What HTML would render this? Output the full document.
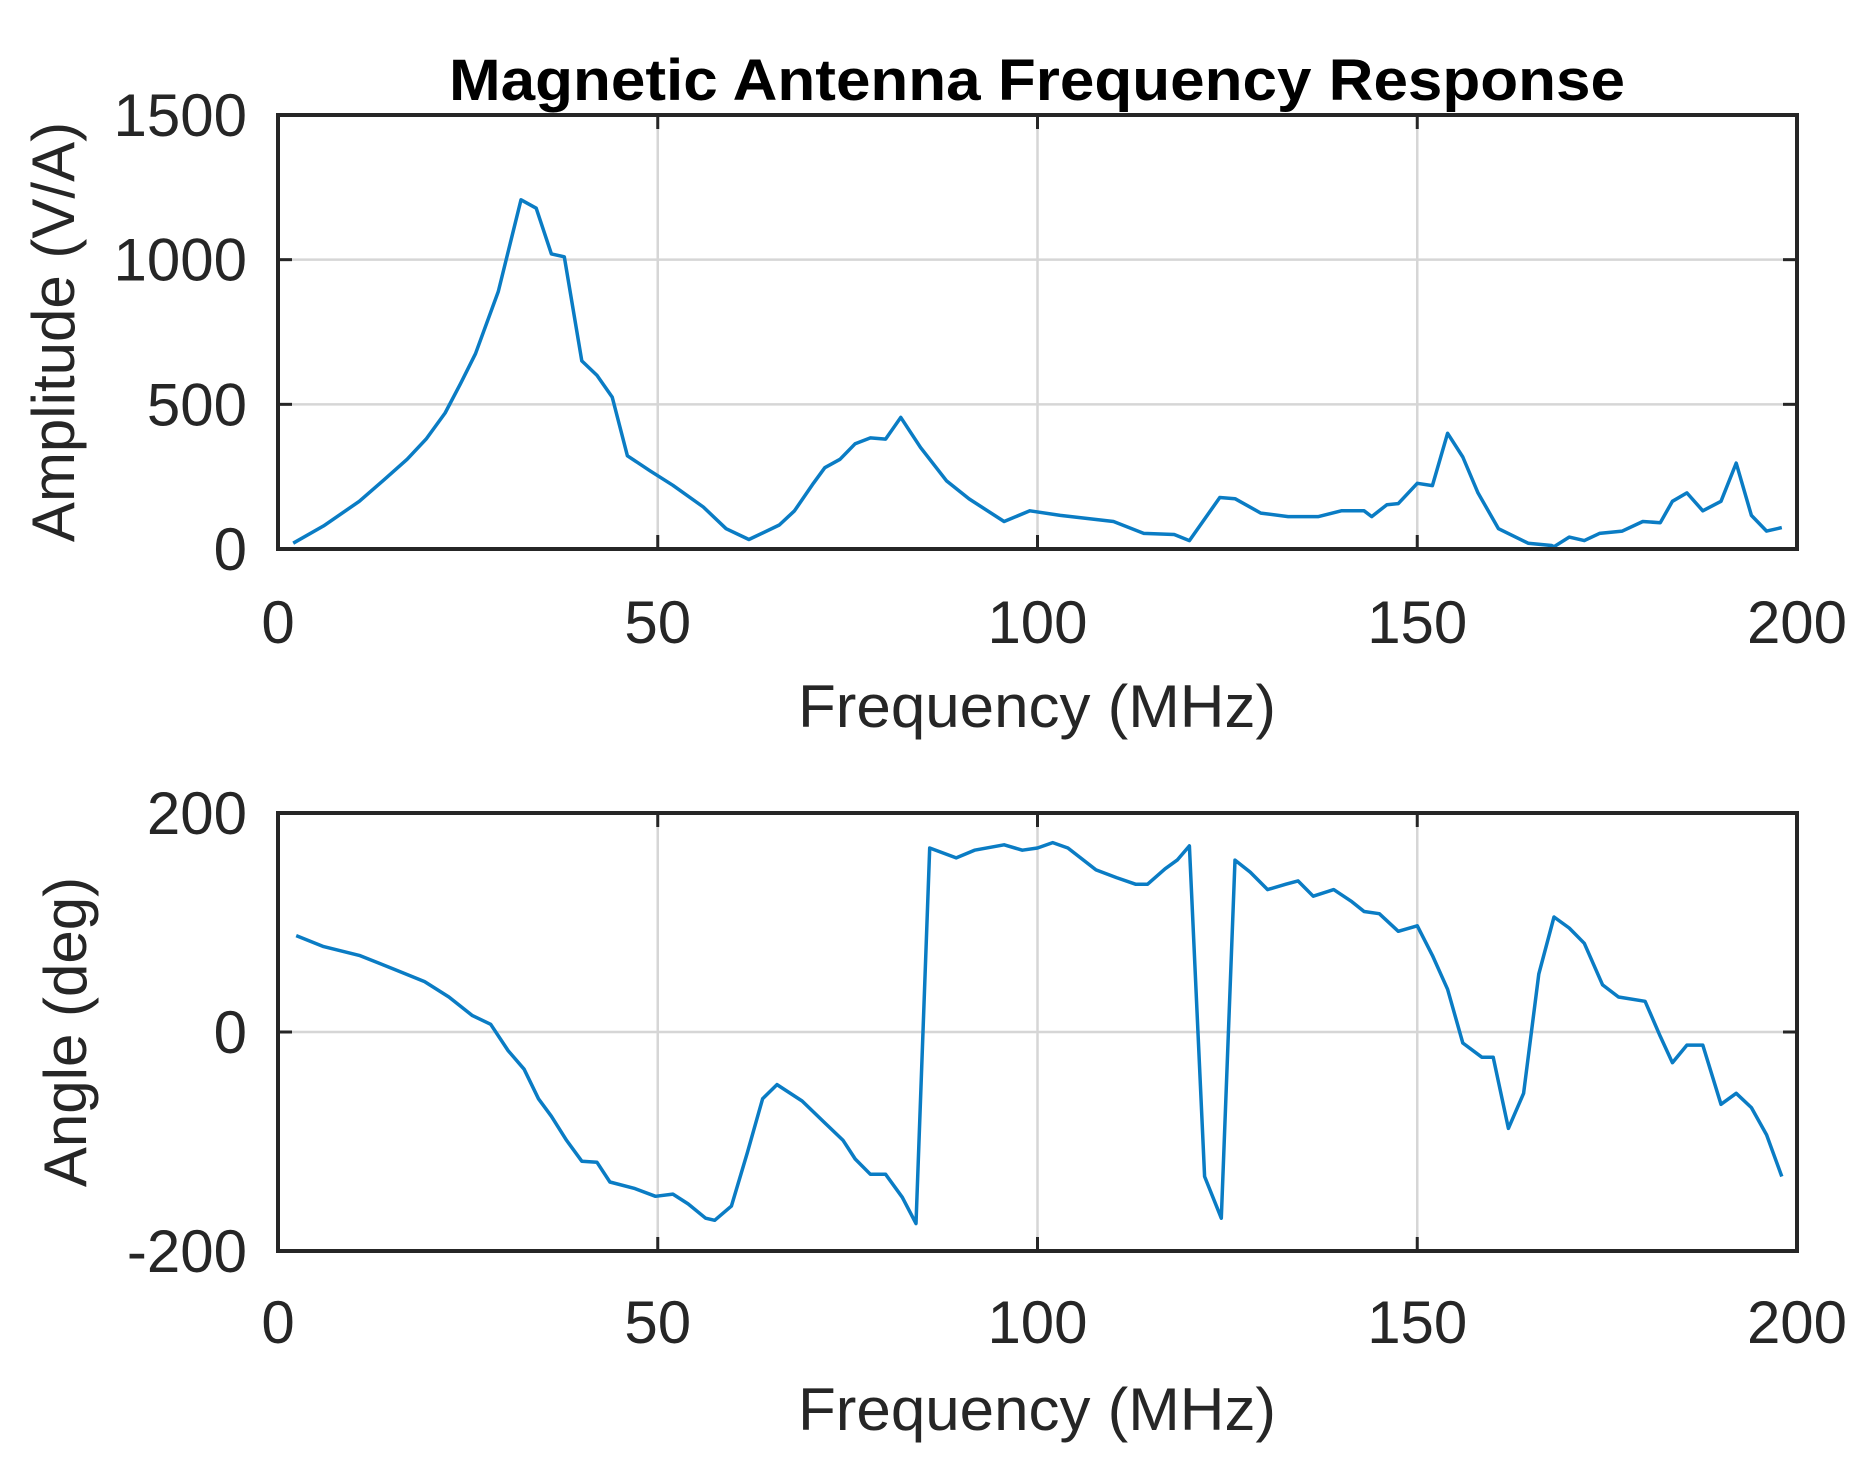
<!DOCTYPE html>
<html><head><meta charset="utf-8">
<style>
html,body{margin:0;padding:0;background:#fff;}
svg{display:block;}
text{font-family:"Liberation Sans",Arial,sans-serif;fill:#262626;}
</style></head>
<body>
<svg id="s" width="1873" height="1473" xmlns="http://www.w3.org/2000/svg">
<rect width="1873" height="1473" fill="#fff"/>
<text x="1037" y="100" text-anchor="middle" font-size="58" font-weight="bold" style="fill:#000" textLength="1176" lengthAdjust="spacingAndGlyphs">Magnetic Antenna Frequency Response</text>
<g id="g"></g>
<text transform="translate(74,332) rotate(-90)" text-anchor="middle" font-size="60">Amplitude (V/A)</text>
<text transform="translate(86,1032) rotate(-90)" text-anchor="middle" font-size="60">Angle (deg)</text>
<text x="1037" y="727" text-anchor="middle" font-size="60" textLength="478" lengthAdjust="spacingAndGlyphs">Frequency (MHz)</text>
<text x="1037" y="1430" text-anchor="middle" font-size="60" textLength="478" lengthAdjust="spacingAndGlyphs">Frequency (MHz)</text>
</svg>
<script>
var NS="http://www.w3.org/2000/svg",g=document.getElementById('g');
function el(t,a,txt){var e=document.createElementNS(NS,t);for(var k in a)e.setAttribute(k,a[k]);if(txt!==undefined)e.textContent=txt;g.appendChild(e);return e;}
var L=278,R=1797,W=R-L;
function fx(f){return L+f*W/200;}
function axes(T,B,ymin,ymax,yt,xlabY,data){
  function fy(v){return B-(v-ymin)*(B-T)/(ymax-ymin);}
  [50,100,150].forEach(function(f){el('line',{x1:fx(f),x2:fx(f),y1:T,y2:B,stroke:'#d6d6d6','stroke-width':2.5});});
  yt.forEach(function(v){if(v>ymin&&v<ymax)el('line',{x1:L,x2:R,y1:fy(v),y2:fy(v),stroke:'#d6d6d6','stroke-width':2.5});});
  var pts=data.map(function(p){return fx(p[0]).toFixed(1)+','+fy(p[1]).toFixed(1);}).join(' ');
  el('polyline',{points:pts,fill:'none',stroke:'#0a7cc4','stroke-width':3.5,'stroke-linejoin':'round'});
  el('rect',{x:L,y:T,width:W,height:B-T,fill:'none',stroke:'#262626','stroke-width':4});
  [0,50,100,150,200].forEach(function(f){
    el('line',{x1:fx(f),x2:fx(f),y1:B,y2:B-14,stroke:'#262626','stroke-width':3});
    el('line',{x1:fx(f),x2:fx(f),y1:T,y2:T+14,stroke:'#262626','stroke-width':3});
    el('text',{x:fx(f),y:xlabY,'text-anchor':'middle','font-size':60},String(f));
  });
  yt.forEach(function(v){
    el('line',{x1:L,x2:L+14,y1:fy(v),y2:fy(v),stroke:'#262626','stroke-width':3});
    el('line',{x1:R,x2:R-14,y1:fy(v),y2:fy(v),stroke:'#262626','stroke-width':3});
    el('text',{x:247,y:fy(v)+21,'text-anchor':'end','font-size':60},String(v));
  });
}
var amp=[[2,20],[6,80],[10.7,165],[14,240],[17,310],[19.5,380],[22,470],[24,570],[26,675],[29,890],[32,1207],[34,1178],[36,1020],[37.7,1010],[40,650],[42,600],[44,525],[46,322],[49,270],[52,220],[56,145],[59,70],[62,33],[66,83],[68,132],[70.5,227],[72,281],[74,310],[76,364],[78,384],[80,380],[82,455],[84.6,351],[88,236],[91,173],[95.6,95],[99,132],[103,116],[110,95],[114,54],[118,50],[120,29],[124,178],[126,174],[129.4,124],[133,112],[137,112],[140,132],[143,132],[144,112],[146,153],[147.5,157],[150,227],[152,219],[154,400],[156,318],[158,194],[160.7,70],[164.6,20],[167.7,12],[168,8],[170,41],[172,29],[174,54],[177,62],[179.7,95],[182,91],[183.6,165],[185.5,194],[187.6,132],[190,165],[192,297],[194,116],[196,62],[198,74]];
var ang=[[2.4,88],[6,78],[10.7,70],[15.4,57],[19.3,46],[22.5,32],[25.6,15],[28,7],[30.3,-17],[32.4,-34],[34.3,-61],[36,-77],[38,-99],[40,-118],[42,-119],[43.7,-137],[47,-143],[49.7,-150],[52,-148],[54,-157],[56.3,-170],[57.5,-172],[59.7,-159],[61.8,-110],[63.8,-61],[65.7,-48],[69,-63],[72,-83],[74.4,-99],[76,-116],[78,-130],[80,-130],[82.2,-151],[84,-175],[85.8,168],[89.3,159],[91.7,166],[95.6,171],[98,166],[100,168],[102,173],[104,168],[107.7,148],[110.4,141],[112.9,135],[114.5,135],[116.8,149],[118.4,157],[120,170],[122,-132],[124.2,-170],[126,157],[128,146],[130.3,130],[132.7,135],[134.3,138],[136.3,124],[139,130],[141.4,119],[143,110],[145,108],[147.5,92],[150,97],[152,70],[154,39],[156,-10],[158.5,-23],[160,-23],[162,-88],[164,-56],[166,53],[168,105],[170,95],[172,81],[174.4,43],[176.5,32],[180,28],[182,-4],[183.6,-28],[185.5,-12],[187.6,-12],[190,-66],[192,-56],[194,-69],[196,-94],[198,-132]];
axes(115,549,0,1500,[0,500,1000,1500],643,amp);
axes(813,1251,-200,200,[-200,0,200],1343,ang);
</script>
</body></html>
